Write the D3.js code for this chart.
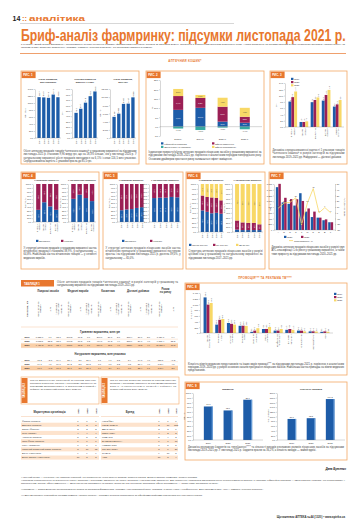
<!DOCTYPE html>
<html>
<head>
<meta charset="UTF-8">
<title>Бриф-аналіз фармринку: підсумки листопада 2021 р.</title>
<script src="https://cdn.jsdelivr.net/npm/d3@7"></script>
<style>
body { margin: 0; background: #fff; }
svg { display: block; font-family: "Liberation Sans", Arial, sans-serif; }
</style>
</head>
<body>
<svg id="page" width="360" height="530"></svg>
<script>
// ---- data ----
var years5 = ["2017", "2018", "2019", "2020", "2021"];
var years3 = ["2019", "2020", "2021"];

// рис. 1
var fig1Titles = [["Обсяг продажів,", "млн упаковок"], ["Середньозважена", "вартість 1 упак."], ["Обсяг продажів,", "млн грн"]];
var fig1Units = ["Млн упак.", "Грн", "Млн грн"];
var fig1Packs = [116.7, 116.0, 114.8, 124.1, 116.5];
var fig1Price = [46.2, 53.7, 64.9, 76.8, 85.5];
var fig1Money = [5184, 5963, 8362, 8417, 9958];

// рис. 2
var fig2Groups = ["2018", "2019", "2020", "2021"];
var fig2Infl = [9.0, 10.1, 2.7, 2.1];
var fig2Volume = [-1.0, -1.8, -0.5, -1.4];
var fig2Subst = [7.4, 5.3, 8.0, 3.2];
var fig2Assort = [3.8, 1.6, 4.8, 4.8];
var fig2Legend = ["Інфляційна складова", "Зміна обсягу в упаковках", "Ефект заміщення", "Ефект асортименту"];

// рис. 3
var fig3Cats = [["Лікарські", "засоби"], ["Медичні", "вироби"], ["Косметика"], ["Дієтичні", "добавки"], ["Разом", "по ринку"]];
var fig3Y2019 = [8.1, 1.6, 7.9, 8.4, 6.5];
var fig3Y2020 = [9.5, 1.6, 8.6, 10.2, 7.2];
var fig3Y2021 = [11.3, 1.8, 9.4, 11.8, 8.6];

// рис. 4
var fig4Cats = [["Лікарські", "засоби"], ["Медичні", "вироби"], ["Косметика"], ["Дієтичні", "добавки"]];
var fig4MoneyDom = [32, 52, 41, 32];
var fig4UnitsDom = [61, 72, 63, 55];
var originLegend = ["Вітчизняні", "Іноземні"];

// рис. 5
var fig5MoneyDom = [31, 33, 34, 37, 39];
var fig5UnitsDom = [63, 64, 64, 66, 65];

// рис. 6
var fig6MoneyHigh = [45, 42, 39, 40, 38];
var fig6MoneyMid = [31, 31, 33, 31, 28];
var fig6MoneyLow = [24, 27, 28, 29, 34];
var fig6UnitsHigh = [5, 4, 4, 4, 4];
var fig6UnitsMid = [19, 16, 15, 15, 12];
var fig6UnitsLow = [76, 80, 81, 81, 84];
var fig6Legend = ["Понад 100 грн", "50–100 грн", "До 50 грн"];

// рис. 7
var fig7Cats = ["A", "N", "R", "C", "J", "M", "G", "D", "B", "L"];
var fig7Y2020 = [1490, 960, 910, 850, 1280, 640, 450, 430, 340, 270];
var fig7Y2021 = [1605, 1120, 1075, 1070, 1010, 750, 640, 430, 370, 270];
var fig7Growth = [8, 17, 18, 26, -21, 17, 42, 0, 9, 0];

// рис. 8
var fig8Cats = [["Медичні", "представники"], ["Реклама", "у пресі"], ["Інтернет-", "реклама"], ["Реклама", "на ТБ"], ["Зовнішня", "реклама"], ["Радіо-", "реклама"], ["Конференції", "та семінари"], ["Друковані", "матеріали"], ["Спонсорство"], ["Мерчандайзинг"], ["Інше"]];
var fig8Y2019 = [1246, 294, 350, 252, 42, 140, 84, 112, 84, 56, 42];
var fig8Y2020 = [994, 462, 322, 256, 84, 142, 86, 140, 82, 58, 56];
var fig8Y2021 = [1050, 490, 294, 248, 168, 210, 140, 112, 56, 52, 44];

// рис. 9
var fig9Budget = [71.3, 62.9, 85.7];
var fig9Spots = [89.6, 92.8, 174.2];

// таблиця 1
var tabGroups = ["Лікарські засоби", "Медичні вироби", "Косметика", "Дієтичні добавки", "Разом по ринку"];
var tabYears = ["2019", "2020", "2021"];
var tabMoney = [
  [6558.0, 7.7, 83.8, 598.3, 18.2, 7.6, 390.0, 20.7, 5.0, 278.4, 26.0, 3.6, 7824.7, 9.4],
  [8011.5, 22.2, 83.8, 697.3, 16.5, 7.3, 464.7, 19.2, 4.9, 386.9, 39.0, 4.0, 9560.4, 22.2],
  [9424.3, 17.6, 83.4, 803.1, 15.2, 7.1, 519.6, 11.8, 4.6, 553.9, 43.2, 4.9, 11300.9, 18.2]
];
var tabUnits = [
  [95.2, -2.1, 69.9, 28.4, 3.6, 20.9, 7.1, 9.7, 5.2, 5.4, 14.8, 4.0, 136.1, -0.2],
  [99.1, 4.1, 69.6, 29.2, 2.8, 20.5, 7.6, 7.0, 5.3, 6.5, 20.4, 4.6, 142.4, 4.6],
  [98.6, -0.5, 67.8, 30.1, 3.1, 20.7, 7.9, 3.9, 5.4, 8.8, 35.4, 6.1, 145.4, 2.1]
];

// таблиці 2, 3
var topYears = ["2021", "2020", "2019"];
var topCompanies = ["Фармак (Україна)", "Дарниця (Україна)", "Sanofi (Франція)", "Teva (Ізраїль)", "Артеріум (Україна)", "Юрія-Фарм (Україна)", "KRKA (Словенія)", "Київський вітамінний завод (Україна)", "Bayer (Німеччина)", "Berlin-Chemie (Німеччина)"];
var topCompanyRanks = [[1, 1, 1], [2, 2, 5], [3, 3, 2], [4, 4, 4], [5, 5, 3], [6, 6, 6], [7, 7, 7], [8, 10, 12], [9, 9, 9], [10, 8, 8]];
var topBrands = ["НУРОФЕН", "КОРВАЛМЕНТ", "ДЕКСАЛГІН", "ЦИТРАМОН", "МОВАЛІС", "ЕНТЕРОЖЕРМІНА", "НОВОПАСИТ", "СПАЗМАЛГОН", "ЛІНЕКС", "АЦЦ"];
var topBrandRanks = [[1, 1, 1], [2, 16, 123], [3, 3, 6], [4, 2, 2], [5, 4, 3], [6, 7, 17], [7, 5, 5], [8, 6, 27], [9, 10, 8], [10, 8, 4]];

// ---- helpers ----
var ORANGE = "#e8772e", BOX = "#f3a865", BLUE = "#1d5ca8", MAROON = "#9b1f55", YELLOW = "#f8d866", TEAL = "#38aba2";
var L = d3.formatLocale({decimal: ",", thousands: " ", grouping: [3], currency: ["", ""]});
var f1 = L.format(",.1f"), f0 = L.format(",.0f");
var svg = d3.select("#page");
var CAP = 2.55, CAPLH = 3.4;

function txt(x, y, s, size, o) {
  o = o || {};
  return svg.append("text").attr("x", x).attr("y", y).attr("font-size", size)
    .attr("fill", o.fill || "#333").attr("text-anchor", o.anchor || "start")
    .attr("font-weight", o.bold ? "bold" : null).attr("font-style", o.italic ? "italic" : null).text(s);
}

// text squeezed horizontally to a given width
function fitText(x, y, s, size, width, o) {
  var t = txt(0, 0, s, size, o);
  var w = t.node().getComputedTextLength();
  t.attr("transform", "translate(" + x + "," + y + ") scale(" + (width / w) + ",1)");
  return t;
}

function vtext(x, y, lines, size, anchor, fill) {
  var t = svg.append("text").attr("transform", "translate(" + x + "," + y + ") rotate(-90)")
    .attr("font-size", size).attr("text-anchor", anchor).attr("fill", fill || "#333");
  var lh = size * 1.1;
  lines.forEach(function(l, i) {
    t.append("tspan").attr("x", 0).attr("dy", i ? lh : (-(lines.length - 1) / 2 * lh + size * 0.35)).text(l);
  });
  return t;
}

// justified paragraph
function para(x, y, w, s, size, lh, fill) {
  var t = svg.append("text").attr("font-size", size).attr("fill", fill || "#3a3a3a");
  var words = s.split(" "), line = [], yy = y, spans = [];
  var ts = t.append("tspan").attr("x", x).attr("y", yy);
  spans.push(ts);
  words.forEach(function(wd) {
    line.push(wd);
    ts.text(line.join(" "));
    if (ts.node().getComputedTextLength() > w && line.length > 1) {
      line.pop();
      ts.text(line.join(" "));
      line = [wd];
      yy += lh;
      ts = t.append("tspan").attr("x", x).attr("y", yy).text(wd);
      spans.push(ts);
    }
  });
  spans.slice(0, -1).forEach(function(sp) { sp.attr("textLength", w).attr("lengthAdjust", "spacing"); });
}

function frame(x, y, w, h, label) {
  svg.append("rect").attr("x", x).attr("y", y).attr("width", w).attr("height", h)
    .attr("fill", "none").attr("stroke", BOX).attr("stroke-width", 0.8);
  svg.append("rect").attr("x", x + 0.6).attr("y", y + 0.6).attr("width", 14).attr("height", 6.5).attr("fill", ORANGE);
  txt(x + 2.2, y + 5.1, label, 2.9, {fill: "#fff", bold: true});
}

function styleAxis(g) {
  g.attr("font-size", 2.2).attr("font-family", null);
  g.selectAll("line,path").attr("stroke", "#777").attr("stroke-width", 0.3);
  g.selectAll("text").attr("fill", "#333");
  return g;
}
function axisL(scale, x, ticks, fmt) {
  return styleAxis(svg.append("g").attr("transform", "translate(" + x + ",0)")
    .call(d3.axisLeft(scale).tickValues(ticks).tickSize(1).tickSizeOuter(0).tickPadding(0.8).tickFormat(fmt)));
}
function axisR(scale, x, ticks, fmt) {
  return styleAxis(svg.append("g").attr("transform", "translate(" + x + ",0)")
    .call(d3.axisRight(scale).tickValues(ticks).tickSize(1).tickSizeOuter(0).tickPadding(0.8).tickFormat(fmt)));
}
function baseLine(x0, x1, y) {
  svg.append("line").attr("x1", x0).attr("x2", x1).attr("y1", y).attr("y2", y).attr("stroke", "#777").attr("stroke-width", 0.3);
}
function legendItem(x, y, color, label, line) {
  if (line) svg.append("line").attr("x1", x).attr("x2", x + 4).attr("y1", y - 0.9).attr("y2", y - 0.9).attr("stroke", color).attr("stroke-width", 0.8);
  else svg.append("rect").attr("x", x).attr("y", y - 2.2).attr("width", 2.4).attr("height", 2.2).attr("fill", color);
  txt(x + (line ? 5 : 3.2), y, label, 2.3);
}

// 100% stacked bars
function stack100(x0, x1, top, bottom, cats, series, colors, title) {
  var x = d3.scaleBand().domain(d3.range(cats.length)).range([x0 + 1.5, x1]).padding(0.28);
  var y = d3.scaleLinear().domain([0, 100]).range([bottom, top]);
  axisL(y, x0, d3.range(0, 101, 10), function(d) { return d + ",0"; });
  vtext(x0 - 7.5, (top + bottom) / 2, ["Частка, %"], 2.3, "middle");
  txt((x0 + x1) / 2, top - 3, title, 2.1, {anchor: "middle", bold: true});
  var rows = cats.map(function(c, i) { var r = {i: i}; series.forEach(function(s, k) { r[k] = s[i]; }); return r; });
  var st = d3.stack().keys(d3.range(series.length))(rows);
  st.forEach(function(layer, k) {
    layer.forEach(function(d, i) {
      svg.append("rect").attr("x", x(i)).attr("width", x.bandwidth())
        .attr("y", y(d[1])).attr("height", y(d[0]) - y(d[1])).attr("fill", colors[k]);
      if (d[1] - d[0] >= 9) {
        vtext(x(i) + x.bandwidth() / 2, (y(d[0]) + y(d[1])) / 2, [f1(d[1] - d[0])], 1.9, "middle", colors[k] === YELLOW ? "#555" : "#fff");
      }
    });
  });
  baseLine(x0, x1, bottom);
  cats.forEach(function(c, i) {
    var lines = Array.isArray(c) ? c : [c];
    vtext(x(i) + x.bandwidth() / 2, bottom + 1.2, lines, 2.2, "end");
  });
}

// ---- page header ----
txt(12.5, 20.5, "14", 7, {bold: true, fill: "#222"});
txt(22, 20.5, "::", 7.5, {bold: true, fill: ORANGE});
fitText(29, 20.5, "аналітика", 8, 56, {bold: true, fill: ORANGE});
baseLine(20, 234, 23.5);
fitText(21, 40.5, "Бриф-аналіз фармринку: підсумки листопада 2021 р.", 16.5, 325, {bold: true, fill: ORANGE});
para(21, 44.8, 324, "У рубриці «Бриф-аналіз фармринку» представлено основні тенденції розвитку фармацевтичного ринку України за листопад 2021 р. порівняно з аналогічним періодом попередніх років. Аналіз проведено за даними системи аудиту роздрібних продажів «PharmXplorer» та системи аудиту медичних призначень «Призма» компанії «Proxima Research». Усі показники наведено в гривнях.", 2.5, 3.5, "#333");
svg.append("line").attr("x1", 20).attr("x2", 346).attr("y1", 53.5).attr("y2", 53.5).attr("stroke", ORANGE).attr("stroke-width", 0.7);
txt(185, 62, "АПТЕЧНИЙ КОШИК*", 2.9, {anchor: "middle", bold: true, fill: ORANGE}).attr("letter-spacing", 0.3);

// ---- frames ----
frame(21, 71, 118, 93, "РИС. 1");
frame(146, 71, 118, 93, "РИС. 2");
frame(270, 71, 77, 93, "РИС. 3");
frame(21, 172, 78, 97, "РИС. 4");
frame(103, 172, 80, 97, "РИС. 5");
frame(186, 172, 79, 97, "РИС. 6");
frame(269, 172, 78, 97, "РИС. 7");
frame(185, 283, 162, 92, "РИС. 8");
frame(185, 382, 162, 78, "РИС. 9");

// ---- рис. 1 ----
var fig1Data = [fig1Packs, fig1Price, fig1Money];
var fig1Dom = [140, 90, 12000];
var fig1Step = [20, 10, 2000];
var fig1X = [35, 72, 110];
fig1Data.forEach(function(vals, k) {
  var x0 = fig1X[k];
  var x = d3.scaleBand().domain(years5).range([x0 + 1, x0 + 26]).padding(0.3);
  var y = d3.scaleLinear().domain([0, fig1Dom[k]]).range([138, 89]);
  axisL(y, x0, d3.range(0, fig1Dom[k] + 1, fig1Step[k]), k === 2 ? f0 : f1);
  vtext(x0 - 9.5, 113, [fig1Units[k]], 2.3, "middle");
  txt(x0 + 13, 80, fig1Titles[k][0], 2.4, {anchor: "middle", bold: true});
  txt(x0 + 13, 83, fig1Titles[k][1], 2.4, {anchor: "middle", bold: true});
  vals.forEach(function(v, i) {
    svg.append("rect").attr("x", x(years5[i])).attr("width", x.bandwidth()).attr("y", y(v)).attr("height", 138 - y(v)).attr("fill", BLUE);
    vtext(x(years5[i]) + x.bandwidth() / 2, y(v) - 0.8, [k === 2 ? f0(v) : f1(v)], 2, "start");
  });
  baseLine(x0, x0 + 26, 138);
  years5.forEach(function(yr) { vtext(x(yr) + x.bandwidth() / 2, 139.2, [yr], 2.2, "end"); });
});
para(23.5, 152, 113, "Обсяг аптечних продажів товарів «аптечного кошика» у грошовому вираженні за підсумками листопада 2021 р. становив 9,96 млрд грн, що на 18,3% більше, ніж у листопаді 2020 р. У натуральному вираженні обсяг продажів зменшився на 6,1% і склав 116,5 млн упаковок. Середньозважена вартість 1 упаковки зросла до 85,5 грн.", CAP, CAPLH);

// ---- рис. 2 ----
var x2 = d3.scaleBand().domain(fig2Groups).range([161, 262]).padding(0.55);
var y2 = d3.scaleLinear().domain([-5, 25]).range([136, 80]);
axisL(y2, 160, d3.range(-5, 26, 5), function(d) { return d + ",0"; });
vtext(152, 108, ["%"], 2.5, "middle");
var fig2Rows = fig2Groups.map(function(g, i) { return {a: fig2Infl[i], b: fig2Subst[i], c: fig2Assort[i]}; });
var fig2Stack = d3.stack().keys(["a", "b", "c"])(fig2Rows);
var fig2Colors = [BLUE, MAROON, YELLOW];
fig2Stack.forEach(function(layer, k) {
  layer.forEach(function(d, i) {
    var gx = x2(fig2Groups[i]);
    svg.append("rect").attr("x", gx).attr("width", x2.bandwidth()).attr("y", y2(d[1])).attr("height", y2(d[0]) - y2(d[1])).attr("fill", fig2Colors[k]);
    txt(gx + x2.bandwidth() / 2, (y2(d[0]) + y2(d[1])) / 2 + 0.7, f1(d[1] - d[0]) + "%", 1.9, {anchor: "middle", fill: k === 2 ? "#444" : "#fff"});
  });
});
fig2Volume.forEach(function(v, i) {
  var gx = x2(fig2Groups[i]);
  svg.append("rect").attr("x", gx).attr("width", x2.bandwidth()).attr("y", y2(0)).attr("height", y2(v) - y2(0)).attr("fill", TEAL);
  txt(gx + x2.bandwidth() / 2, y2(v) + 2.4, f1(v) + "%", 1.9, {anchor: "middle"});
  txt(gx + x2.bandwidth() / 2, 140, fig2Groups[i] + " р.", 2.3, {anchor: "middle"});
});
baseLine(160, 262, y2(0));
legendItem(161, 144.5, BLUE, fig2Legend[0]);
legendItem(161, 148, TEAL, fig2Legend[1]);
legendItem(212, 144.5, MAROON, fig2Legend[2]);
legendItem(212, 148, YELLOW, fig2Legend[3]);
para(148.5, 153, 113, "Індикатори приросту/убутку аптечних продажів лікарських засобів у грошовому вираженні за підсумками листопада 2018–2021 рр. порівняно з аналогічним періодом попереднього року. Основним драйвером зростання ринку залишається ефект заміщення.", CAP, CAPLH);

// ---- рис. 3 ----
var x3 = d3.scaleBand().domain(d3.range(fig3Cats.length)).range([286, 344]).padding(0.22);
var x3in = d3.scaleBand().domain(years3).range([0, x3.bandwidth()]);
var y3 = d3.scaleLinear().domain([0, 14]).range([127, 83]);
axisL(y3, 285, d3.range(0, 15, 2), f1);
vtext(276.5, 105, ["Грн"], 2.3, "middle");
var fig3Series = [fig3Y2019, fig3Y2020, fig3Y2021], fig3Colors = [BLUE, MAROON, YELLOW];
fig3Series.forEach(function(s, k) {
  s.forEach(function(v, i) {
    var bx = x3(i) + x3in(years3[k]);
    svg.append("rect").attr("x", bx).attr("width", x3in.bandwidth()).attr("y", y3(v)).attr("height", 127 - y3(v)).attr("fill", fig3Colors[k]);
    vtext(bx + x3in.bandwidth() / 2, y3(v) - 0.6, [f1(v)], 1.8, "start");
  });
});
baseLine(285, 344, 127);
fig3Cats.forEach(function(c, i) { vtext(x3(i) + x3.bandwidth() / 2, 128.2, c, 2.2, "end"); });
years3.forEach(function(yr, k) { legendItem(291, 80 + k * 3.2, fig3Colors[k], yr); });
para(272.5, 151, 72, "Динаміка середньозваженої вартості 1 упаковки товарів «аптечного кошика» в розрізі категорій за підсумками листопада 2019–2021 рр. Найдорожчі — дієтичні добавки.", CAP, CAPLH);

// ---- рис. 4 ----
stack100(33, 60, 184, 222, fig4Cats, [fig4MoneyDom, fig4MoneyDom.map(function(v) { return 100 - v; })], [BLUE, MAROON], "У грошовому вираженні");
stack100(68, 96, 184, 222, fig4Cats, [fig4UnitsDom, fig4UnitsDom.map(function(v) { return 100 - v; })], [BLUE, MAROON], "У натуральному вираженні");
legendItem(36, 242, BLUE, originLegend[0]);
legendItem(61, 242, MAROON, originLegend[1]);
para(23.5, 248.5, 73, "У структурі аптечних продажів у грошовому вираженні частка вітчизняної продукції становила 38,9%, у натуральному — 64,8%. Найбільша частка вітчизняних товарів — у сегменті медичних виробів.", CAP, CAPLH);

// ---- рис. 5 ----
stack100(117, 145, 184, 222, years5, [fig5MoneyDom, fig5MoneyDom.map(function(v) { return 100 - v; })], [BLUE, MAROON], "У грошовому вираженні");
stack100(149, 181, 184, 222, years5, [fig5UnitsDom, fig5UnitsDom.map(function(v) { return 100 - v; })], [BLUE, MAROON], "У натуральному вираженні");
legendItem(122, 242, BLUE, originLegend[0]);
legendItem(150, 242, MAROON, originLegend[1]);
para(105.5, 248.5, 75, "У структурі аптечних продажів лікарських засобів частка вітчизняних препаратів у грошовому вираженні поступово зростає і за підсумками листопада 2021 р. досягла 39,0%, у натуральному — 65,0%.", CAP, CAPLH);

// ---- рис. 6 ----
stack100(198, 224, 184, 232, years5, [fig6MoneyHigh, fig6MoneyMid, fig6MoneyLow], [BLUE, MAROON, YELLOW], "У грошовому вираженні");
stack100(232, 263, 184, 232, years5, [fig6UnitsHigh, fig6UnitsMid, fig6UnitsLow], [BLUE, MAROON, YELLOW], "У натуральному вираженні");
legendItem(189, 246, BLUE, fig6Legend[0]);
legendItem(213, 246, MAROON, fig6Legend[1]);
legendItem(236, 246, YELLOW, fig6Legend[2]);
para(188.5, 252, 74, "Структура аптечних продажів лікарських засобів у розрізі цінових ніш у грошовому та натуральному вираженні за підсумками листопада 2017–2021 рр.", CAP, CAPLH);

// ---- рис. 7 ----
var x7 = d3.scaleBand().domain(fig7Cats).range([275, 334]).padding(0.15);
var x7in = d3.scaleBand().domain(["2020", "2021"]).range([0, x7.bandwidth()]);
var y7 = d3.scaleLinear().domain([0, 1600]).range([230, 184]);
var y7r = d3.scaleLinear().domain([-30, 50]).range([230, 184]);
axisL(y7, 274, d3.range(0, 1601, 200), f0);
axisR(y7r, 335, d3.range(-30, 51, 10), function(d) { return d; });
vtext(270.5, 207, ["Млн грн"], 2.3, "middle");
vtext(344, 207, ["Темп приросту, %"], 2.3, "middle");
fig7Cats.forEach(function(c, i) {
  var gx = x7(c);
  svg.append("rect").attr("x", gx).attr("width", x7in.bandwidth()).attr("y", y7(fig7Y2020[i])).attr("height", 230 - y7(fig7Y2020[i])).attr("fill", BLUE);
  svg.append("rect").attr("x", gx + x7in("2021")).attr("width", x7in.bandwidth()).attr("y", y7(fig7Y2021[i])).attr("height", 230 - y7(fig7Y2021[i])).attr("fill", MAROON);
  txt(gx + x7.bandwidth() / 2, 232.8, c, 2.2, {anchor: "middle"});
});
baseLine(274, 335, 230);
var line7 = d3.line().x(function(d, i) { return x7(fig7Cats[i]) + x7.bandwidth() / 2; }).y(function(d) { return y7r(d); });
svg.append("path").attr("d", line7(fig7Growth)).attr("fill", "none").attr("stroke", YELLOW).attr("stroke-width", 0.8);
fig7Growth.forEach(function(v, i) {
  txt(x7(fig7Cats[i]) + x7.bandwidth() / 2, y7r(v) - 1, v, 1.9, {anchor: "middle"});
});
legendItem(284, 238, BLUE, "2020");
legendItem(301, 238, MAROON, "2021");
legendItem(289, 241.5, YELLOW, "Темп приросту, %", true);
para(271.5, 248, 73, "Динаміка аптечних продажів лікарських засобів у розрізі груп АТС-класифікації 1-го рівня у грошовому вираженні, а також темп приросту за підсумками листопада 2020–2021 рр.", CAP, CAPLH);

// ---- промоція ----
txt(265, 278.5, "ПРОМОЦІЯ*** ТА РЕКЛАМА ТВ****", 2.9, {anchor: "middle", bold: true, fill: ORANGE}).attr("letter-spacing", 0.2);

// ---- рис. 8 ----
var x8 = d3.scaleBand().domain(d3.range(fig8Cats.length)).range([201, 332]).padding(0.22);
var x8in = d3.scaleBand().domain(years3).range([0, x8.bandwidth()]);
var y8 = d3.scaleLinear().domain([0, 1400]).range([333, 293]);
axisL(y8, 200, d3.range(0, 1401, 200), f0);
vtext(191, 313, ["Тис. візитів"], 2.3, "middle");
var fig8Series = [fig8Y2019, fig8Y2020, fig8Y2021];
fig8Series.forEach(function(s, k) {
  s.forEach(function(v, i) {
    var bx = x8(i) + x8in(years3[k]);
    svg.append("rect").attr("x", bx).attr("width", x8in.bandwidth()).attr("y", y8(v)).attr("height", 333 - y8(v)).attr("fill", fig3Colors[k]);
    vtext(bx + x8in.bandwidth() / 2, y8(v) - 0.6, [f1(v / 10)], 1.8, "start");
  });
});
baseLine(200, 333, 333);
fig8Cats.forEach(function(c, i) { vtext(x8(i) + x8.bandwidth() / 2, 334.2, c, 2.2, "end"); });
years3.forEach(function(yr, k) { legendItem(334, 295 + k * 3.2, fig3Colors[k], yr); });
para(188, 364.5, 156, "Кількість візитів медичних представників та інших видів промоції*** за підсумками листопада 2021 р. порівняно з аналогічним періодом 2019–2020 рр. у розрізі основних каналів просування лікарських засобів. Найбільша частка припадає на візити медичних представників.", CAP, CAPLH);

// ---- рис. 9 ----
var fig9Sets = [
  {vals: fig9Budget, x0: 193, x1: 263, dom: 100, step: 10, title: "Бюджети", unit: "Млн грн"},
  {vals: fig9Spots, x0: 277, x1: 345, dom: 200, step: 20, title: "Кількість виходів", unit: "Тис. виходів"}
];
fig9Sets.forEach(function(c) {
  var x = d3.scaleBand().domain(years3).range([c.x0, c.x1]).padding(0.55);
  var y = d3.scaleLinear().domain([0, c.dom]).range([440, 393]);
  axisL(y, c.x0, d3.range(0, c.dom + 1, c.step), f1);
  vtext(c.x0 - 9, 416, [c.unit], 2.3, "middle");
  txt((c.x0 + c.x1) / 2, 390, c.title, 2.5, {anchor: "middle", bold: true});
  c.vals.forEach(function(v, i) {
    var bx = x(years3[i]);
    svg.append("rect").attr("x", bx).attr("width", x.bandwidth()).attr("y", y(v)).attr("height", 440 - y(v)).attr("fill", BLUE);
    svg.append("rect").attr("x", bx + x.bandwidth() - 1).attr("width", 1).attr("y", y(v)).attr("height", 440 - y(v)).attr("fill", "#6fa3dc");
    txt(bx + x.bandwidth() / 2, y(v) - 1, f1(v), 2.1, {anchor: "middle"});
    txt(bx + x.bandwidth() / 2, 443.5, years3[i], 2.3, {anchor: "middle"});
  });
  baseLine(c.x0, c.x1, 440);
});
para(188, 447.5, 156, "Динаміка рекламних бюджетів на телебаченні**** та кількості виходів рекламних роликів лікарських засобів за підсумками листопада 2019–2021 рр. У листопаді 2021 р. бюджети зросли на 36,2%, а кількість виходів — майже вдвічі.", CAP, CAPLH);

// ---- таблиця 1 ----
svg.append("rect").attr("x", 21).attr("y", 280).attr("width", 33).attr("height", 6.5).attr("fill", ORANGE);
txt(24, 284.7, "ТАБЛИЦЯ 1", 2.8, {fill: "#fff", bold: true});
para(57, 282.5, 121, "Обсяг аптечних продажів товарів «аптечного кошика» в розрізі категорій у грошовому та натуральному вираженні за підсумками листопада 2019–2021 рр.", CAP, CAPLH);
var colW = [12, 13, 8, 9, 13, 8, 9, 13, 8, 9, 13, 8, 9, 15, 10];
var colX = [], acc = 21;
colW.forEach(function(w) { colX.push(acc); acc += w; });
function colC(j) { return colX[j] + colW[j] / 2; }
tabGroups.forEach(function(g, i) {
  var a = 1 + 3 * i, b = i < 4 ? a + 2 : a + 1;
  var cx = (colX[a] + colX[b] + colW[b]) / 2;
  if (i < 4) txt(cx, 292, g, 2.6, {anchor: "middle", bold: true});
  else { txt(cx, 289.5, "Разом", 2.6, {anchor: "middle", bold: true}); txt(cx, 292.5, "по ринку", 2.6, {anchor: "middle", bold: true}); }
});
vtext(colC(0), 309, ["Листопад, рік"], 2.4, "middle").attr("font-weight", "bold");
for (var j = 1; j < colW.length; j++) {
  var kind = j < 13 ? (j - 1) % 3 : j - 13;
  var lines = kind === 0 ? ["Обсяг аптечних", "продажів"] : kind === 1 ? ["Δ, %"] : ["Питома вага", "у загальному", "обсязі, %"];
  vtext(colC(j), 309, lines, 2.1, "middle");
}
function tableBlock(title, ty, data, fmt) {
  txt(100, ty, title, 2.7, {anchor: "middle", bold: true});
  data.forEach(function(row, r) {
    var ry = ty + 5.5 + r * 4.2;
    if (r === 2) svg.append("rect").attr("x", 21).attr("y", ry - 2.9).attr("width", 157).attr("height", 4.1).attr("fill", "#f9cfa8");
    svg.append("line").attr("x1", 21).attr("x2", 178).attr("y1", ry + 1.2).attr("y2", ry + 1.2).attr("stroke", "#f3b788").attr("stroke-width", 0.3);
    txt(colC(0), ry, tabYears[r], 2.3, {anchor: "middle", bold: true});
    row.forEach(function(v, c) {
      var kind = c < 12 ? c % 3 : c - 12;
      txt(colC(c + 1), ry, kind === 0 ? fmt(v) : f1(v), 2.2, {anchor: "middle"});
    });
  });
}
svg.append("line").attr("x1", 21).attr("x2", 178).attr("y1", 327).attr("y2", 327).attr("stroke", "#f3b788").attr("stroke-width", 0.4);
tableBlock("Гривневе вираження, млн грн", 332.5, tabMoney, f1);
tableBlock("Натуральне вираження, млн упаковок", 355, tabUnits, f1);

// ---- таблиці 2, 3 ----
function noteBox(x, label, s) {
  svg.append("rect").attr("x", x).attr("y", 377).attr("width", 78).attr("height", 27).attr("fill", "none").attr("stroke", BOX).attr("stroke-width", 0.6);
  svg.append("rect").attr("x", x + 0.5).attr("y", 378).attr("width", 6).attr("height", 25).attr("fill", ORANGE);
  vtext(x + 3.5, 390.5, [label], 2.6, "middle", "#fff").attr("font-weight", "bold");
  para(x + 9, 380.5, 66, s, 2.4, 3.2);
}
noteBox(21, "ТАБЛИЦЯ 2", "Топ-10 маркетуючих організацій за обсягом аптечних продажів лікарських засобів у грошовому вираженні за підсумками листопада 2021 р. із зазначенням їх позицій у рейтингу за аналогічний період 2019–2020 рр.");
noteBox(101, "ТАБЛИЦЯ 3", "Топ-10 брендів лікарських засобів за обсягом аптечних продажів у грошовому вираженні за підсумками листопада 2021 р. із зазначенням їх позицій у рейтингу за аналогічний період 2019–2020 рр.");

function topTable(x, w, head, names, ranks, yearX) {
  txt(x + (yearX[0] - x) / 2, 412.5, head, 2.7, {anchor: "middle", bold: true});
  topYears.forEach(function(yr, k) { vtext(yearX[k], 411, [yr], 2.3, "middle").attr("font-weight", "bold"); });
  svg.append("line").attr("x1", x).attr("x2", x + w).attr("y1", 416.5).attr("y2", 416.5).attr("stroke", "#f3b788").attr("stroke-width", 0.4);
  names.forEach(function(n, i) {
    var ry = 421.5 + i * 4.1;
    if (i % 2 === 1) svg.append("rect").attr("x", x).attr("y", ry - 2.9).attr("width", w).attr("height", 4.1).attr("fill", "#fde3cd");
    txt(x + 1, ry, n, 2.3);
    ranks[i].forEach(function(v, k) { txt(yearX[k], ry, v, 2.3, {anchor: "middle"}); });
  });
}
topTable(21, 78, "Маркетуюча організація", topCompanies, topCompanyRanks, [78, 87, 96]);
topTable(101, 77, "Бренд", topBrands, topBrandRanks, [159, 168, 176]);

// ---- signature, footnotes ----
txt(346, 469.5, "Дана Бутенко", 2.9, {anchor: "end", italic: true, bold: true, fill: "#222"});
para(21, 477.5, 324, "*Аптечний кошик — сукупність усіх товарних категорій, що реалізуються через аптечні заклади: лікарські засоби, медичні вироби, косметика, дієтичні добавки.", 2.4, 3.1);
para(21, 480.6, 324, "**Показник розраховується як відношення обсягу продажів у грошовому вираженні до обсягу продажів у натуральному вираженні. Для розрахунку індикаторів використовується середньозважена вартість 1 упаковки; інфляційна складова — зміна вартості упаковок, що реалізувались у попередньому періоді; ефект заміщення — зміна структури споживання на користь дорожчих або дешевших препаратів; ефект асортименту — поява нових препаратів на ринку.", 2.4, 3.1);
para(21, 490, 324, "***Промоція — візити медичних представників до лікарів та провізорів/фармацевтів, реклама у спеціалізованій пресі, розсилки, а також участь у конференціях. Дані системи аудиту «PMA» компанії «Proxima Research».", 2.4, 3.1);
para(21, 496.2, 324, "****Дані моніторингу телевізійної реклами компанії «Nielsen Ukraine». Рекламні бюджети розраховано за офіційними прайсами телеканалів без урахування знижок.", 2.4, 3.1);
txt(345, 518, "Щотижневик АПТЕКА №44 (1320) • www.apteka.ua", 2.8, {anchor: "end", bold: true, fill: "#333"});
</script>
</body>
</html>
